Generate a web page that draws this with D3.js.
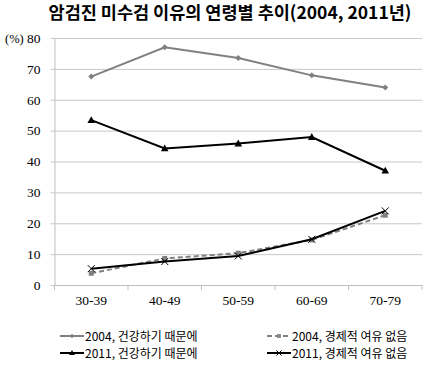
<!DOCTYPE html>
<html><head><meta charset="utf-8">
<script src="https://cdn.jsdelivr.net/npm/d3@7"></script>
<style>body{margin:0;background:#fff}</style>
</head><body>
<svg id="c" width="434" height="368"></svg>
<script>
const categories = ["30-39","40-49","50-59","60-69","70-79"];
const health2004 = [67.5, 77.0, 73.5, 67.9, 64.0];
const health2011 = [53.4, 44.2, 45.8, 47.9, 37.0];
const econ2004 = [3.8, 8.6, 10.3, 14.6, 22.6];
const econ2011 = [5.3, 7.6, 9.4, 14.8, 24.0];
const yTicks = [0,10,20,30,40,50,60,70,80];
const seriesNames = ["2004, 건강하기 때문에","2004, 경제적 여유 없음","2011, 건강하기 때문에","2011, 경제적 여유 없음"];
const title = "암검진 미수검 이유의 연령별 추이(2004, 2011년)";
const SERIF = "'Times New Roman', 'Liberation Serif', 'DejaVu Serif', serif";

const svg = d3.select("#c");
const L = 54.5, R = 422, T = 38, B = 285;
const x = d3.scaleBand().domain(categories).range([L, R]);
const y = d3.scaleLinear().domain([0, 80]).range([B, T]);
const cx = d => x(d) + x.bandwidth()/2;

svg.append("text").attr("x", 230).attr("y", 19).attr("text-anchor","middle")
  .style("font-family","'Noto Sans CJK KR'").attr("font-weight","bold").attr("font-size",17.5)
  .attr("fill","#000").text(title);

const yAxis = d3.axisLeft(y).tickValues(yTicks).tickSize(-(R-L)).tickSizeOuter(0).tickPadding(14);
const gy = svg.append("g").attr("transform",`translate(${L},0)`).call(yAxis);
gy.attr("font-family",null).style("font-family",SERIF);
gy.select(".domain").attr("stroke","#bfbfbf");
gy.selectAll(".tick line").attr("stroke","#c8c8c8").attr("x1",-4);
gy.selectAll(".tick text").style("font-family",SERIF).attr("font-size",13.5).attr("fill","#000");

svg.append("text").style("font-family",SERIF).attr("x",5).attr("y",T+4.5).attr("font-size",12.5).attr("fill","#000").text("(%)");

const xAxis = d3.axisBottom(x).tickSize(0).tickPadding(10);
const gx = svg.append("g").attr("transform",`translate(0,${B})`).call(xAxis);
gx.attr("font-family",null).style("font-family",SERIF);
gx.select(".domain").attr("stroke","#bfbfbf");
gx.selectAll(".tick text").style("font-family",SERIF).attr("font-size",13.5).attr("fill","#000");
svg.append("g").selectAll("line").data(categories.concat(["end"])).join("line")
  .attr("x1",(d,i)=> i<categories.length ? x(d) : R).attr("x2",(d,i)=> i<categories.length ? x(d) : R)
  .attr("y1",B).attr("y2",B+5).attr("stroke","#bfbfbf");

const series = [
  {name: seriesNames[0], vals: health2004, color:"#808080", dash:null, marker:"diamond"},
  {name: seriesNames[1], vals: econ2004, color:"#808080", dash:"5,3", marker:"square"},
  {name: seriesNames[2], vals: health2011, color:"#000", dash:null, marker:"triangle"},
  {name: seriesNames[3], vals: econ2011, color:"#000", dash:null, marker:"x"},
];
const line = d3.line().x((d,i)=>cx(categories[i])).y(d=>y(d));
function marker(g, type, color, px, py, k){
  if(type==="diamond") g.append("path").attr("d",`M${px},${py-3*k}L${px+3*k},${py}L${px},${py+3*k}L${px-3*k},${py}Z`).attr("fill",color);
  else if(type==="square") g.append("rect").attr("x",px-2.5*k).attr("y",py-2.5*k).attr("width",5*k).attr("height",5*k).attr("fill",color);
  else if(type==="triangle") g.append("path").attr("d",`M${px},${py-4*k}L${px+3.8*k},${py+2.8*k}L${px-3.8*k},${py+2.8*k}Z`).attr("fill",color);
  else if(type==="x") g.append("path").attr("d",`M${px-3.5*k},${py-3.5*k}L${px+3.5*k},${py+3.5*k}M${px-3.5*k},${py+3.5*k}L${px+3.5*k},${py-3.5*k}`).attr("stroke",color).attr("stroke-width",1);
}
[0,2,1,3].forEach(k=>{
  const s = series[k];
  const g = svg.append("g");
  g.append("path").datum(s.vals).attr("d",line).attr("fill","none").attr("stroke",s.color)
    .attr("stroke-width",2).attr("stroke-dasharray",s.dash);
  s.vals.forEach((v,i)=>marker(g,s.marker,s.color,cx(categories[i]),y(v),1));
});

const legPos = [[60,336],[267,336],[60,353],[267,353]];
series.forEach((s,i)=>{
  const [lx,ly] = legPos[i];
  const g = svg.append("g");
  g.append("line").attr("x1",lx).attr("x2",lx+24).attr("y1",ly).attr("y2",ly)
    .attr("stroke",s.color).attr("stroke-width",2).attr("stroke-dasharray",s.dash);
  marker(g,s.marker,s.color,lx+12,ly,0.75);
  g.append("text").attr("x",lx+25).attr("y",ly+4.5).style("font-family","'Noto Sans CJK KR'")
    .attr("font-size",12).attr("fill","#000").text(s.name);
});
</script>
</body></html>
